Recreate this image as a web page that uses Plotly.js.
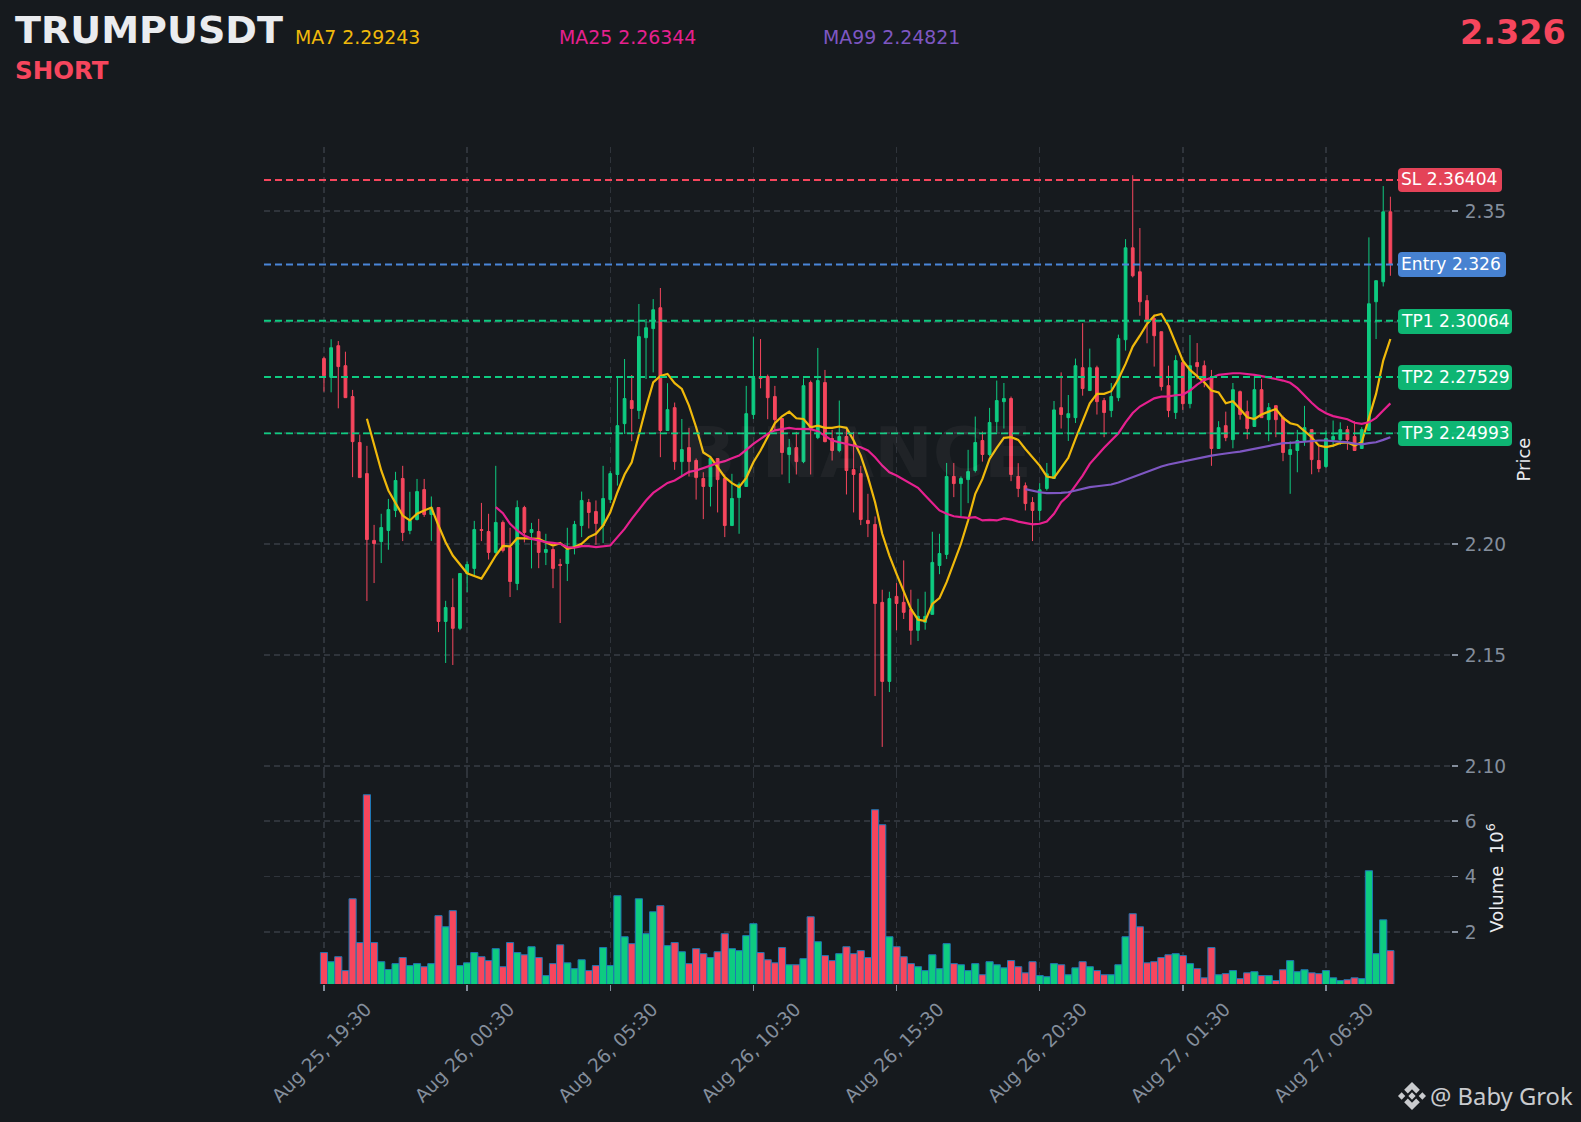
<!DOCTYPE html>
<html>
<head>
<meta charset="utf-8">
<script src="https://cdn.plot.ly/plotly-3.0.1.min.js"></script>
<style>html,body{margin:0;padding:0;background:#161a1e}</style>
</head>
<body>
<div id="chart" style="width:1581px;height:1122px"></div>
<script>
const opens=[2.2836,2.2752,2.2894,2.2804,2.2665,2.2458,2.2318,2.2017,2.2012,2.2062,2.2152,2.2296,2.2062,2.2111,2.2246,2.2134,2.2165,2.1652,2.1715,2.1621,2.1868,2.1891,2.2066,2.2057,2.1963,2.2098,2.1985,2.1823,2.2165,2.2053,2.2057,2.1963,2.1976,2.1909,2.1913,2.1990,2.2084,2.2188,2.2147,2.2084,2.2201,2.2314,2.2543,2.2647,2.2602,2.2930,2.2971,2.3065,2.2512,2.2615,2.2372,2.2435,2.2377,2.2296,2.2260,2.2386,2.2296,2.2084,2.2210,2.2260,2.2584,2.2755,2.2755,2.2665,2.2566,2.2404,2.2435,2.2372,2.2728,2.2480,2.2728,2.2476,2.2422,2.2485,2.2336,2.2318,2.2107,2.2089,2.1738,2.1382,2.1765,2.1738,2.1706,2.1612,2.1648,2.1684,2.1904,2.1954,2.2305,2.2273,2.2291,2.2332,2.2467,2.2404,2.2552,2.2642,2.2656,2.2305,2.2263,2.2188,2.2152,2.2251,2.2296,2.2615,2.2570,2.2570,2.2795,2.2692,2.2795,2.2647,2.2602,2.2660,2.2921,2.3335,2.3227,2.3097,2.3016,2.2957,2.2714,2.2593,2.2818,2.2633,2.2818,2.2804,2.2750,2.2431,2.2534,2.2471,2.2687,2.2597,2.2530,2.2696,2.2561,2.2624,2.2570,2.2404,2.2422,2.2467,2.2516,2.2377,2.2350,2.2471,2.2471,2.2516,2.2485,2.2431,2.2512,2.3092,2.3182,2.3497];
const highs=[2.2845,2.2923,2.2915,2.2867,2.2695,2.2494,2.2443,2.2087,2.2137,2.2204,2.2326,2.2353,2.2236,2.2294,2.2294,2.2215,2.2165,2.1745,2.1846,2.1868,2.1922,2.2105,2.2186,2.2137,2.2353,2.2107,2.2074,2.2197,2.2173,2.2096,2.2114,2.2047,2.1987,2.1934,2.2074,2.2105,2.2237,2.2204,2.2197,2.2353,2.2329,2.2752,2.2834,2.2762,2.3082,2.3014,2.3104,2.3154,2.2725,2.2638,2.2564,2.2524,2.2386,2.2324,2.2398,2.2386,2.2314,2.2317,2.2278,2.2713,2.2935,2.2924,2.2764,2.2713,2.2566,2.2474,2.2506,2.2747,2.2737,2.2884,2.2785,2.2515,2.2647,2.2527,2.2506,2.2353,2.2227,2.2125,2.1795,2.1786,2.1825,2.1927,2.1795,2.1754,2.1786,2.2056,2.2047,2.2366,2.2366,2.2305,2.2425,2.2575,2.2507,2.2614,2.2737,2.2726,2.2665,2.2365,2.2278,2.2212,2.2275,2.2366,2.2645,2.2774,2.2672,2.2836,2.2995,2.2881,2.2804,2.2659,2.2726,2.2944,2.3374,2.3662,2.3424,2.3122,2.3034,2.2957,2.2804,2.2851,2.2827,2.2942,2.2906,2.2827,2.2785,2.2554,2.2597,2.2726,2.2692,2.2647,2.2759,2.2744,2.2636,2.2624,2.2579,2.2464,2.2515,2.2623,2.2516,2.2452,2.2512,2.2557,2.2549,2.2533,2.2554,2.2527,2.3382,2.3187,2.3613,2.3565];
const lows=[2.2687,2.2684,2.2612,2.2660,2.2302,2.2300,2.1744,2.1825,2.1915,2.1975,2.2122,2.2014,2.2045,2.2107,2.2123,2.2015,2.1604,2.1465,2.1456,2.1613,2.1784,2.1859,2.2014,2.1931,2.1957,2.1963,2.1762,2.1793,2.2008,2.1891,2.1892,2.1906,2.1802,2.1645,2.1834,2.1954,2.2032,2.2071,2.1997,2.2005,2.2185,2.2264,2.2497,2.2464,2.2564,2.2744,2.2774,2.2392,2.2512,2.2335,2.2305,2.2305,2.2201,2.2113,2.2170,2.2143,2.2032,2.2084,2.2047,2.2260,2.2564,2.2702,2.2563,2.2512,2.2314,2.2275,2.2314,2.2365,2.2314,2.2473,2.2459,2.2377,2.2414,2.2224,2.2143,2.2086,2.2032,2.1316,2.1087,2.1334,2.1612,2.1663,2.1547,2.1564,2.1615,2.1684,2.1865,2.1933,2.2212,2.2122,2.2185,2.2323,2.2372,2.2395,2.2504,2.2521,2.2284,2.2212,2.2152,2.2014,2.2107,2.2242,2.2296,2.2521,2.2465,2.2546,2.2669,2.2692,2.2584,2.2482,2.2572,2.2644,2.2872,2.3202,2.3029,2.2905,2.2800,2.2692,2.2572,2.2564,2.2605,2.2612,2.2743,2.2707,2.2353,2.2431,2.2464,2.2432,2.2561,2.2473,2.2530,2.2570,2.2464,2.2482,2.2374,2.2227,2.2324,2.2443,2.2315,2.2324,2.2344,2.2437,2.2447,2.2425,2.2422,2.2431,2.2512,2.2924,2.3161,2.3209];
const closes=[2.2759,2.2885,2.2800,2.2660,2.2462,2.2300,2.2021,2.2003,2.2075,2.2156,2.2287,2.2053,2.2107,2.2237,2.2134,2.2165,2.1652,2.1715,2.1621,2.1868,2.1909,2.2066,2.2062,2.1963,2.2098,2.1972,2.1832,2.2165,2.2053,2.2066,2.1963,2.1976,2.1891,2.1904,2.1976,2.2089,2.2197,2.2143,2.2093,2.2206,2.2318,2.2534,2.2656,2.2611,2.2935,2.2975,2.3056,2.2512,2.2606,2.2372,2.2426,2.2372,2.2300,2.2260,2.2386,2.2291,2.2084,2.2206,2.2269,2.2588,2.2750,2.2746,2.2660,2.2561,2.2413,2.2435,2.2372,2.2714,2.2516,2.2737,2.2462,2.2422,2.2485,2.2332,2.2314,2.2111,2.2093,2.1733,2.1382,2.1755,2.1733,2.1693,2.1612,2.1675,2.1675,2.1918,2.1958,2.2305,2.2273,2.2296,2.2327,2.2458,2.2404,2.2548,2.2647,2.2656,2.2314,2.2251,2.2183,2.2152,2.2245,2.2317,2.2605,2.2584,2.2588,2.2804,2.2701,2.2795,2.2642,2.2593,2.2665,2.2926,2.3335,2.3209,2.3092,2.3011,2.2939,2.2710,2.2602,2.2827,2.2633,2.2804,2.2800,2.2737,2.2431,2.2525,2.2480,2.2696,2.2584,2.2521,2.2696,2.2570,2.2615,2.2561,2.2413,2.2426,2.2467,2.2525,2.2381,2.2341,2.2476,2.2485,2.2516,2.2471,2.2422,2.2516,2.3083,2.3187,2.3497,2.3259];
const volumes=[1.26,0.93,1.11,0.61,3.20,1.62,6.95,1.62,0.93,0.65,0.86,1.08,0.79,0.86,0.75,0.86,2.59,2.19,2.77,0.79,0.89,1.26,1.11,0.97,1.40,0.75,1.62,1.26,1.18,1.47,1.08,0.43,0.86,1.54,0.89,0.68,1.00,0.61,0.79,1.44,0.79,3.31,1.83,1.58,3.20,1.94,2.73,2.95,1.51,1.62,1.29,0.86,1.40,1.22,1.08,1.29,1.94,1.40,1.33,1.87,2.30,1.26,1.00,0.89,1.44,0.82,0.82,1.04,2.55,1.65,1.15,0.97,1.22,1.47,1.22,1.33,1.08,6.41,5.87,1.83,1.47,1.11,0.86,0.75,0.61,1.18,0.68,1.58,0.86,0.82,0.61,0.86,0.46,0.93,0.82,0.71,0.97,0.75,0.53,0.93,0.43,0.39,0.86,0.82,0.46,0.71,0.93,0.75,0.61,0.46,0.46,0.82,1.83,2.66,2.19,0.89,0.93,1.08,1.18,1.22,1.15,0.86,0.68,0.35,1.44,0.46,0.50,0.61,0.32,0.53,0.57,0.43,0.43,0.25,0.64,0.97,0.57,0.64,0.53,0.50,0.61,0.35,0.25,0.28,0.35,0.32,4.21,1.22,2.44,1.33];
const ma7=[2.2565,2.2452,2.2332,2.2242,2.2182,2.2129,2.2107,2.2137,2.2152,2.2165,2.2084,2.2009,2.1949,2.1911,2.1869,2.1857,2.1845,2.1896,2.1949,2.1992,2.1990,2.2027,2.2027,2.2027,2.2024,2.2009,2.1994,2.2005,2.1979,2.1987,2.2002,2.2032,2.2047,2.2084,2.2144,2.2234,2.2314,2.2369,2.2497,2.2617,2.2729,2.2758,2.2767,2.2725,2.2699,2.2624,2.2527,2.2413,2.2392,2.2347,2.2302,2.2275,2.2257,2.2299,2.2369,2.2422,2.2482,2.2545,2.2576,2.2597,2.2567,2.2564,2.2527,2.2534,2.2524,2.2524,2.2530,2.2524,2.2467,2.2399,2.2302,2.2189,2.2047,2.1949,2.1866,2.1784,2.1709,2.1660,2.1654,2.1731,2.1757,2.1829,2.1911,2.2002,2.2107,2.2227,2.2294,2.2384,2.2434,2.2479,2.2482,2.2470,2.2429,2.2392,2.2354,2.2305,2.2299,2.2344,2.2389,2.2474,2.2557,2.2635,2.2677,2.2677,2.2689,2.2744,2.2812,2.2890,2.2939,2.2992,2.3029,2.3037,2.2984,2.2909,2.2827,2.2785,2.2759,2.2729,2.2692,2.2684,2.2635,2.2644,2.2609,2.2572,2.2564,2.2584,2.2597,2.2609,2.2569,2.2545,2.2537,2.2509,2.2482,2.2444,2.2437,2.2444,2.2456,2.2458,2.2444,2.2459,2.2572,2.2677,2.2827,2.29243];
const ma25=[2.2167,2.2140,2.2092,2.2062,2.2039,2.2024,2.2017,2.2009,2.2006,2.2002,2.1987,2.1984,2.1991,2.1991,2.1987,2.1990,2.1994,2.2032,2.2069,2.2114,2.2155,2.2197,2.2231,2.2254,2.2276,2.2287,2.2305,2.2326,2.2332,2.2342,2.2354,2.2366,2.2374,2.2387,2.2399,2.2425,2.2452,2.2474,2.2497,2.2513,2.2519,2.2524,2.2519,2.2518,2.2518,2.2509,2.2489,2.2467,2.2459,2.2452,2.2447,2.2437,2.2422,2.2392,2.2354,2.2324,2.2309,2.2290,2.2272,2.2254,2.2219,2.2185,2.2152,2.2137,2.2126,2.2122,2.2119,2.2122,2.2107,2.2110,2.2107,2.2116,2.2111,2.2102,2.2095,2.2089,2.2092,2.2102,2.2137,2.2189,2.2219,2.2264,2.2309,2.2362,2.2399,2.2434,2.2467,2.2500,2.2549,2.2591,2.2620,2.2639,2.2657,2.2665,2.2666,2.2671,2.2674,2.2692,2.2719,2.2740,2.2749,2.2763,2.2767,2.2770,2.2770,2.2767,2.2763,2.2757,2.2749,2.2744,2.2737,2.2727,2.2703,2.2670,2.2637,2.2609,2.2590,2.2577,2.2569,2.2563,2.2547,2.2542,2.2549,2.2569,2.2602,2.26344];
const ma99=[2.2248,2.2240,2.2234,2.2230,2.2230,2.2231,2.2234,2.2242,2.2249,2.2257,2.2261,2.2264,2.2269,2.2278,2.2290,2.2302,2.2312,2.2327,2.2339,2.2350,2.2359,2.2366,2.2372,2.2380,2.2387,2.2393,2.2399,2.2404,2.2407,2.2413,2.2417,2.2423,2.2429,2.2437,2.2444,2.2450,2.2455,2.2456,2.2459,2.2464,2.2465,2.2467,2.2467,2.2465,2.2462,2.2459,2.2453,2.2450,2.2455,2.2459,2.2470,2.24821];
const levelNames=['SL','Entry','TP1','TP2','TP3'];
const levelValues=[2.36404,2.326,2.30064,2.27529,2.24993];
const levelLabels=['SL 2.36404','Entry 2.326','TP1 2.30064','TP2 2.27529','TP3 2.24993'];
const levelColors=['#f6465d','#4a86d8','#0ecb81','#0ecb81','#0ecb81'];
const priceTicks=[2.10,2.15,2.20,2.25,2.30,2.35];
const volumeTicks=[2,4,6];

const t0=Date.UTC(2025,7,25,19,30);
const dates=opens.map((_,i)=>new Date(t0+i*900000).toISOString().slice(0,19));
const GREEN='#0ecb81',RED='#f6465d',BG='#161a1e',GRID='#2f343b',TICK='#848e9c';
const PL=264,PR=1451,PT=147,PB=984,PM=772;
const fx=p=>(p-PL)/(PR-PL), fy=p=>(PB-p)/(PB-PT);
const hm=d=>new Date(t0+d*900000).toISOString().slice(0,19);

const traces=[
 {type:'candlestick',x:dates,open:opens,high:highs,low:lows,close:closes,xaxis:'x',yaxis:'y',
  increasing:{line:{color:GREEN,width:1},fillcolor:GREEN},decreasing:{line:{color:RED,width:1},fillcolor:RED},whiskerwidth:0,showlegend:false,hoverinfo:'skip'},
 {type:'scatter',mode:'lines',x:dates.slice(6),y:ma7,line:{color:'#f0b90b',width:2.2},xaxis:'x',yaxis:'y',showlegend:false,name:'MA7'},
 {type:'scatter',mode:'lines',x:dates.slice(24),y:ma25,line:{color:'#e6208f',width:2.2},xaxis:'x',yaxis:'y',showlegend:false,name:'MA25'},
 {type:'scatter',mode:'lines',x:dates.slice(98),y:ma99,line:{color:'#7e57c2',width:2.2},xaxis:'x',yaxis:'y',showlegend:false,name:'MA99'},
 {type:'bar',x:dates,y:volumes,base:0,xaxis:'x',yaxis:'y2',showlegend:false,name:'Volume',
  marker:{color:opens.map((o,i)=>closes[i]>=o?GREEN:RED),line:{color:'#1f77b4',width:1}}}
];

const shapes=[];
levelValues.forEach((v,i)=>{
 shapes.push({type:'line',xref:'paper',yref:'y',x0:0,x1:fx(1400),y0:v,y1:v,layer:'above',line:{color:levelColors[i],width:1.9,dash:'7px,4px'}});
});
function rr(x0,y0,x1,y1,r,fill){
 const X=fx,Y=fy;
 const d=`M ${X(x0+r)} ${Y(y0)} L ${X(x1-r)} ${Y(y0)} Q ${X(x1)} ${Y(y0)} ${X(x1)} ${Y(y0+r)} L ${X(x1)} ${Y(y1-r)} Q ${X(x1)} ${Y(y1)} ${X(x1-r)} ${Y(y1)} L ${X(x0+r)} ${Y(y1)} Q ${X(x0)} ${Y(y1)} ${X(x0)} ${Y(y1-r)} L ${X(x0)} ${Y(y0+r)} Q ${X(x0)} ${Y(y0)} ${X(x0+r)} ${Y(y0)} Z`;
 return {type:'path',xref:'paper',yref:'paper',path:d,fillcolor:fill,line:{width:0},layer:'above'};
}
const boxes=[[1398,168,1502,192,'rgba(246,70,93,0.92)'],[1398,252,1506,277,'rgba(74,134,216,0.96)'],[1398,309,1512,334,'rgba(14,190,120,0.95)'],[1398,365,1512,390,'rgba(14,190,120,0.95)'],[1398,421,1512,446,'rgba(14,190,120,0.95)']];
boxes.forEach(b=>shapes.push(rr(b[0],b[1],b[2],b[3],4,b[4])));
// footer mark
function poly(cx,cy,s,pts){
 return {type:'path',xref:'paper',yref:'paper',layer:'above',fillcolor:'#c9cbce',line:{width:0},
  path:'M '+pts.map(p=>fx(cx+p[0]*s)+' '+fy(cy+p[1]*s)).join(' L ')+' Z'};
}
const LX=1412,LY=1096,LS=14;
const dia=(c,r)=>[[c-r,0],[c,-r],[c+r,0],[c,r]];
shapes.push(poly(LX,LY,LS,dia(0,.26)),poly(LX,LY,LS,dia(-.74,.26)),poly(LX,LY,LS,dia(.74,.26)),
 poly(LX,LY,LS,[[0,-1],[.56,-.44],[.3,-.18],[0,-.48],[-.3,-.18],[-.56,-.44]]),
 poly(LX,LY,LS,[[0,1],[.56,.44],[.3,.18],[0,.48],[-.3,.18],[-.56,.44]]));

const ann=(text,px,py,size,color,opts)=>Object.assign({text,xref:'paper',yref:'paper',x:fx(px),y:fy(py),xanchor:'left',yanchor:'middle',showarrow:false,font:{family:'DejaVu Sans',size,color}},opts||{});
const annotations=[
 ann('BINANCE',857,453,70,'rgba(255,255,255,0.045)',{xanchor:'center',font:{family:'DejaVu Sans',size:70,color:'rgba(255,255,255,0.045)',weight:700}}),
 ann('<b>TRUMPUSDT</b>',13,30.5,38.1,'#eaecef'),
 ann('<b>SHORT</b>',13,70.5,24.5,'#f6465d'),
 ann('MA7 2.29243',293,36.5,18.9,'#f0b90b'),
 ann('MA25 2.26344',557,36.5,18.9,'#e6208f'),
 ann('MA99 2.24821',821,36.5,18.9,'#7e57c2'),
 ann('<b>2.326</b>',1568,32,33.4,'#f6465d',{xanchor:'right'}),
 ann('@ Baby Grok',1428,1096,23.8,'#c9cbce',{font:{family:'Noto Sans',size:23.8,color:'#c9cbce'}})
];
levelLabels.forEach((t,i)=>{const b=boxes[i];annotations.push(ann(t,1398.5,(b[1]+b[3])/2-1,17.1,'#ffffff'));});

const layout={
 width:1581,height:1122,paper_bgcolor:BG,plot_bgcolor:BG,showlegend:false,
 margin:{l:PL,r:1581-PR,t:PT,b:1122-PB,autoexpand:false},
 font:{family:'DejaVu Sans',color:TICK},bargap:0,boxgap:0.45,
 xaxis:{type:'date',anchor:'y2',range:[hm(-8.38),hm(157.47)],rangeslider:{visible:false},
  tickmode:'linear',tick0:dates[0],dtick:18000000,tickformat:'%b %d, %H:%M',tickangle:-45,
  tickfont:{size:18.6,color:TICK},ticks:'outside',ticklen:6,tickcolor:TICK,tickwidth:1.5,ticklabelshift:42,
  showgrid:true,gridcolor:GRID,griddash:'6px,4px',gridwidth:1.5,showline:false,zeroline:false},
 yaxis:{domain:[fy(PM),1],range:[2.0974,2.3789],side:'right',anchor:'x',tickmode:'array',tickvals:priceTicks,ticktext:priceTicks.map(v=>v.toFixed(2)),
  tickfont:{size:18.6,color:TICK},ticks:'outside',ticklen:6,tickcolor:TICK,tickwidth:1.5,ticklabelstandoff:3,
  showgrid:true,gridcolor:GRID,griddash:'6px,4px',gridwidth:1.5,zeroline:false,showline:false,
  title:{text:'Price',font:{size:18,color:'#eaecef'},standoff:12}},
 yaxis2:{domain:[0,fy(PM)],range:[0.126,7.77],side:'right',anchor:'x',tickmode:'array',tickvals:volumeTicks,
  tickfont:{size:18.6,color:TICK},ticks:'outside',ticklen:6,tickcolor:TICK,tickwidth:1.5,ticklabelstandoff:3,
  showgrid:true,gridcolor:GRID,griddash:'6px,4px',gridwidth:1.5,zeroline:false,showline:false,
  title:{text:'Volume  10<sup>6</sup>',font:{size:18,color:'#eaecef'},standoff:14}},
 shapes,annotations
};
Plotly.newPlot('chart',traces,layout,{displayModeBar:false,staticPlot:true});
</script>
</body>
</html>
